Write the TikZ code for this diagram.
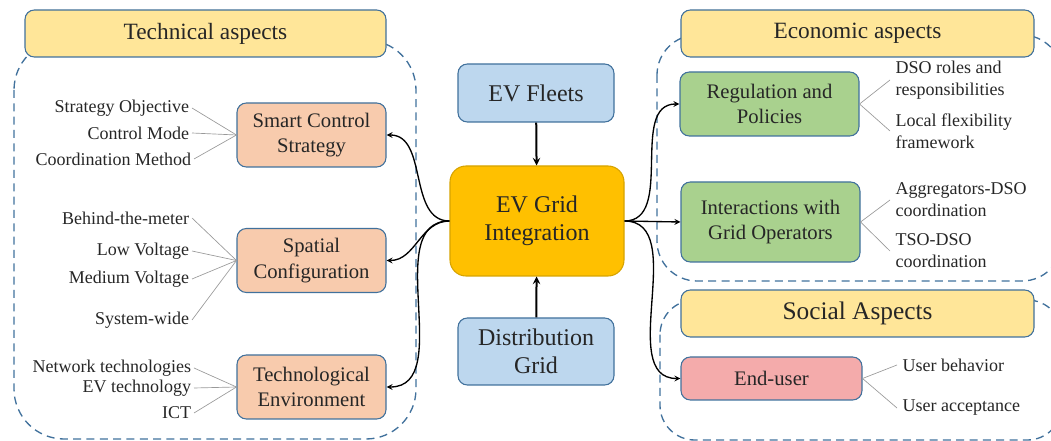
\documentclass[tikz,border=0pt]{standalone}
\usepackage{fontspec}
\setmainfont{Liberation Serif}
\definecolor{bordblue}{HTML}{41719C}
\definecolor{hdryellow}{HTML}{FFE699}
\definecolor{techorange}{HTML}{F8CBAD}
\definecolor{lightblue}{HTML}{BDD7EE}
\definecolor{gold}{HTML}{FFC000}
\definecolor{goldborder}{HTML}{D6A300}
\definecolor{econgreen}{HTML}{A9D18E}
\definecolor{socpink}{HTML}{F4ABAB}
\definecolor{txt}{HTML}{262626}

\begin{document}
\begin{tikzpicture}[x=0.75pt,y=-0.75pt,>=stealth,
  box/.style={draw=bordblue,line width=0.8pt,rounded corners=7pt,align=center,text=txt,
    font=\fontsize{15.5}{19}\selectfont,inner sep=0pt},
  header/.style={box,fill=hdryellow,font=\fontsize{17.5}{20}\selectfont},
  centre/.style={box,font=\fontsize{18}{21}\selectfont},
  region/.style={draw=bordblue,line width=1pt,dash pattern=on 6pt off 4pt},
  lab/.style={text=txt,font=\fontsize{13.5}{16.5}\selectfont,inner sep=2pt},
  tie/.style={draw=gray!80,line width=0.5pt},
  link/.style={->,line width=1pt}]

\useasboundingbox (0,0) rectangle (1051,441);
\clip (0,0) rectangle (1051,441);

% dashed groups
\draw[region,rounded corners=37.5pt] (14,40) rectangle (416,439);
\draw[region,rounded corners=30pt] (657,35) rectangle (1062,281);
\draw[region,rounded corners=26pt] (660,300) rectangle (1062,440);

% headers
\node(tech) at (205.5,33.5)[header,minimum width=270.75pt,minimum height=35.25pt] {Technical aspects};
\node(econ) at (857.5,33.5)[header,minimum width=264.75pt,minimum height=35.25pt] {Economic aspects};
\node(soc) at (857.5,313.5)[header,minimum width=264.75pt,minimum height=35.25pt,font=\fontsize{19}{22}\selectfont] {Social Aspects};

% centre
\node(evf) at (536,93)[centre,fill=lightblue,minimum width=117pt,minimum height=43.5pt] {EV Fleets};
\node(egi) at (537,221)[centre,fill=gold,draw=goldborder,rounded corners=12pt,minimum width=130.5pt,minimum height=82.5pt] {EV Grid\\Integration};
\node(dg) at (536,351.5)[centre,fill=lightblue,minimum width=117pt,minimum height=50.25pt] {Distribution\\Grid};

\draw[->,line width=1.5pt] (evf) -- (egi);
\draw[->,line width=1.5pt] (dg) -- (egi);

% technical
\node(sc) at (311.5,135)[box,fill=techorange,minimum width=111.75pt,minimum height=48pt] {Smart Control\\Strategy};
\node(sp) at (311.5,260.5)[box,fill=techorange,minimum width=111.75pt,minimum height=48pt] {Spatial\\Configuration};
\node(te) at (311.5,387)[box,fill=techorange,minimum width=111.75pt,minimum height=48pt] {Technological\\Environment};

\node(so) at (192,108)[lab,anchor=east] {Strategy Objective};
\node(cm) at (192,133)[lab,anchor=east] {Control Mode};
\node(cd) at (194,159)[lab,anchor=east] {Coordination Method};
\node(btm) at (192,218)[lab,anchor=east] {Behind-the-meter};
\node(lv) at (192,251)[lab,anchor=east] {Low Voltage};
\node(mv) at (192,279)[lab,anchor=east] {Medium Voltage};
\node(sw) at (192,320)[lab,anchor=east] {System-wide};
\node(nt) at (194,368)[lab,anchor=east] {Network technologies};
\node(evt) at (194,388)[lab,anchor=east] {EV technology};
\node(ict) at (194,413)[lab,anchor=east] {ICT};

\foreach \l in {so,cm,cd} \draw[tie] (\l.east) -- (sc.west);
\foreach \l in {btm,lv,mv,sw} \draw[tie] (\l.east) -- (sp.west);
\foreach \l in {nt,evt,ict} \draw[tie] (\l.east) -- (te.west);

\draw[link] (egi.west) to[out=180,in=0] (sc.east);
\draw[link] (egi.west) to[out=180,in=0] (sp.east);
\draw[link] (egi.west) to[out=180,in=0] (te.east);

% economic
\node(reg) at (769.5,104)[box,fill=econgreen,minimum width=134.25pt,minimum height=48pt] {Regulation and\\Policies};
\node(inter) at (770.5,222)[box,fill=econgreen,minimum width=134.25pt,minimum height=60pt] {Interactions with\\Grid Operators};

\node(dso) at (890,80)[lab,anchor=west,align=left,inner sep=4pt] {DSO roles and\\responsibilities};
\node(lff) at (890,131)[lab,anchor=west,align=left,inner sep=4pt] {Local flexibility\\framework};
\node(agg) at (890,200)[lab,anchor=west,align=left,inner sep=4pt] {Aggregators-DSO\\coordination};
\node(tso) at (890,251)[lab,anchor=west,align=left,inner sep=4pt] {TSO-DSO\\coordination};

\foreach \l in {dso,lff} \draw[tie] (reg.east) -- (\l.west);
\foreach \l in {agg,tso} \draw[tie] (inter.east) -- (\l.west);

\draw[link] (egi.east) to[out=0,in=180] (reg.west);
\draw[link] (egi.east) -- (inter.west);

% social
\node(eu) at (771.5,378.5)[box,fill=socpink,minimum width=135.75pt,minimum height=32.25pt] {End-user};

\node(ub) at (897,365)[lab,anchor=west,inner sep=4pt] {User behavior};
\node(ua) at (897,408)[lab,anchor=west,inner sep=4pt] {User acceptance};

\draw[tie] (eu.east) -- (ub.west);
\draw[tie] (eu.east) -- (ua.west);

\draw[link] (egi.east) to[out=0,in=180] (eu.west);

\end{tikzpicture}
\end{document}
